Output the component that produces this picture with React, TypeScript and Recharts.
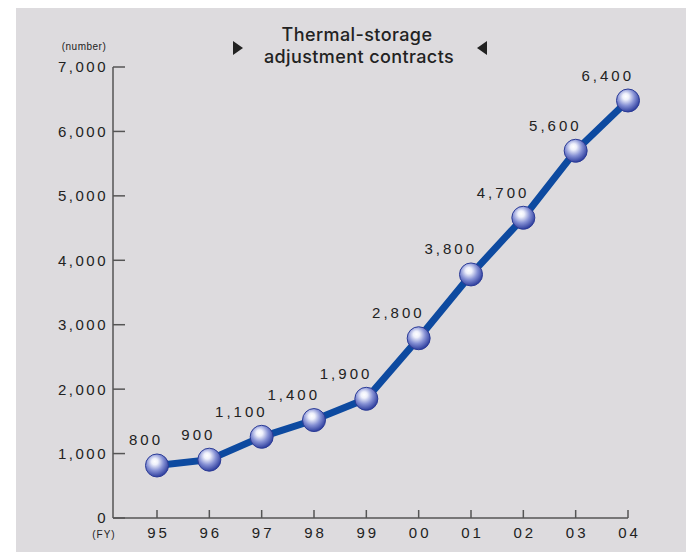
import { LabelList, Line, LineChart, XAxis, YAxis } from 'recharts';

const years = ['95', '96', '97', '98', '99', '00', '01', '02', '03', '04'];
const contracts = [815, 905, 1260, 1520, 1850, 2790, 3780, 4660, 5700, 6480];
const valueLabels = ['800', '900', '1,100', '1,400', '1,900', '2,800', '3,800', '4,700', '5,600', '6,400'];
const yTicks = [0, 1000, 2000, 3000, 4000, 5000, 6000, 7000];

const data = years.map((year, i) => ({ year, contracts: contracts[i], label: valueLabels[i] }));

const INK = '#222';
const AXIS = '#555';
const FONT = '"Liberation Sans", Arial, sans-serif';

const fmt = (v: number) => (v === 0 ? '0' : v.toLocaleString('en-US'));

function YTick({ x, y, payload }: any) {
  return (
    <g>
      <line x1={x} x2={x + 12} y1={y} y2={y} stroke={AXIS} strokeWidth={1.5} />
      <text x={x - 5} y={y} dy="0.36em" textAnchor="end" fill={INK} fontSize={15} fontFamily={FONT} style={{ letterSpacing: 2.5 }}>
        {fmt(payload.value)}
      </text>
    </g>
  );
}

function XTick({ x, y, payload }: any) {
  return (
    <g>
      <line x1={x} x2={x} y1={y} y2={y - 8} stroke={AXIS} strokeWidth={1.5} />
      <text x={x + 1.5} y={y + 20} textAnchor="middle" fill={INK} fontSize={15} fontFamily={FONT} style={{ letterSpacing: 3 }}>
        {payload.value}
      </text>
    </g>
  );
}

function Ball({ cx, cy, index }: any) {
  const id = `ball-${index}`;
  return (
    <g key={id}>
      <defs>
        <radialGradient id={id} cx="42%" cy="38%" r="62%" fx="40%" fy="32%">
          <stop offset="0%" stopColor="#ffffff" />
          <stop offset="22%" stopColor="#eef0fb" />
          <stop offset="60%" stopColor="#8590d4" />
          <stop offset="100%" stopColor="#2f3f9e" />
        </radialGradient>
      </defs>
      <circle cx={cx} cy={cy} r={11.5} fill={`url(#${id})`} stroke="#2b3b96" strokeWidth={1} />
    </g>
  );
}

function ValueLabel({ x, y, value }: any) {
  return (
    <text x={x + 6} y={y - 20} textAnchor="end" fill={INK} fontSize={15} fontFamily={FONT} style={{ letterSpacing: 3 }}>
      {value}
    </text>
  );
}

const TITLE_FONT = 'Inter, "Liberation Sans", sans-serif';

export default function App() {
  return (
    <div style={{ position: 'relative', marginLeft: 8, width: 678, height: 544, background: '#dddbde' }}>
      <LineChart width={678} height={544} data={data} margin={{ top: 59, right: 66, left: 0, bottom: 4 }}>
        <XAxis
          dataKey="year"
          height={30}
          padding={{ left: 44, right: 0 }}
          stroke={AXIS}
          axisLine={{ stroke: AXIS, strokeWidth: 1.5 }}
          tickLine={false}
          tickSize={0}
          tickMargin={0}
          tick={<XTick />}
          interval={0}
        />
        <YAxis
          width={97}
          domain={[0, 7000]}
          ticks={yTicks}
          axisLine={{ stroke: AXIS, strokeWidth: 1.5 }}
          tickLine={false}
          tickSize={0}
          tickMargin={0}
          tick={<YTick />}
          interval={0}
        />
        <Line
          type="linear"
          dataKey="contracts"
          stroke="#0d4aa0"
          strokeWidth={7}
          dot={(p: any) => <Ball {...p} />}
          activeDot={false}
          isAnimationActive={false}
        >
          <LabelList dataKey="label" content={<ValueLabel />} />
        </Line>
      </LineChart>
      <svg width={678} height={544} style={{ position: 'absolute', left: 0, top: 0, pointerEvents: 'none' }}>
        <text x={341} y={33} textAnchor="middle" fill={INK} fontSize={18} fontFamily={TITLE_FONT} fontWeight={500} style={{ letterSpacing: 0.4 }}>
          Thermal-storage
        </text>
        <text x={343} y={55} textAnchor="middle" fill={INK} fontSize={18} fontFamily={TITLE_FONT} fontWeight={500} style={{ letterSpacing: 0.4 }}>
          adjustment contracts
        </text>
        <polygon points="217,33 227,40 217,47" fill={INK} />
        <polygon points="471,33 461,40 471,47" fill={INK} />
        <text x={68} y={42} textAnchor="middle" fill={INK} fontSize={10} fontFamily={FONT} style={{ letterSpacing: 0.5 }}>
          (number)
        </text>
        <text x={88} y={530} textAnchor="middle" fill={INK} fontSize={10} fontFamily={FONT} style={{ letterSpacing: 1 }}>
          (FY)
        </text>
      </svg>
    </div>
  );
}
